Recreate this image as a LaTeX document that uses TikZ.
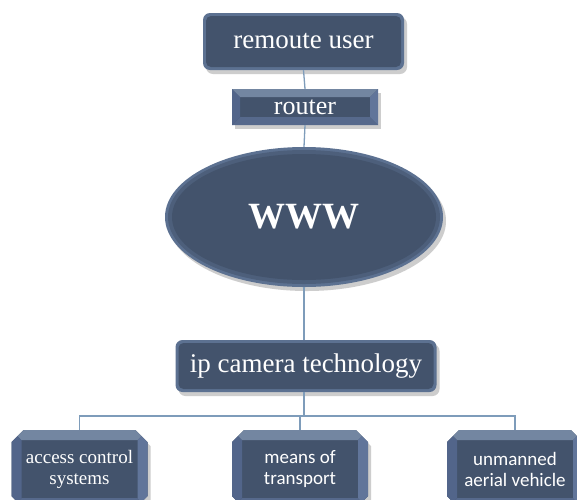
\documentclass[tikz,border=0pt]{standalone}
\usepackage{fontspec}
\setmainfont{Liberation Serif}
\newfontfamily\carlito{Carlito}
\usetikzlibrary{shapes.geometric,shapes.misc,shadows,calc}
\definecolor{base}{HTML}{43536C}
\definecolor{rim}{HTML}{5C7191}
\definecolor{facetT}{HTML}{7386A1}
\definecolor{facetL}{HTML}{52658A}
\definecolor{facetR}{HTML}{61759A}
\definecolor{facetB}{HTML}{56698C}
\definecolor{conn}{HTML}{7E9CBA}
\tikzset{
  connector/.style={draw=conn, line width=1.3pt},
  shad/.style={drop shadow={opacity=0.28, shadow xshift=3pt, shadow yshift=-4pt, fill=black!70}},
  roundbox/.style={rectangle, rounded corners=7pt, fill=rim, text=white, shad, inner sep=0pt,
    path picture={\fill[base, rounded corners=5pt]
      ([shift={(3pt,-3pt)}]path picture bounding box.north west) rectangle
      ([shift={(-3pt,3pt)}]path picture bounding box.south east);}},
  bevelbox/.style={fill=base, text=white, shad, inner sep=0pt,
    path picture={
      \fill[facetT] (path picture bounding box.north west) -- (path picture bounding box.north east)
        -- ([shift={(-#1,-#1)}]path picture bounding box.north east)
        -- ([shift={(#1,-#1)}]path picture bounding box.north west) -- cycle;
      \fill[facetB] (path picture bounding box.south west) -- (path picture bounding box.south east)
        -- ([shift={(-#1,#1)}]path picture bounding box.south east)
        -- ([shift={(#1,#1)}]path picture bounding box.south west) -- cycle;
      \fill[facetL] (path picture bounding box.north west) -- (path picture bounding box.south west)
        -- ([shift={(#1,#1)}]path picture bounding box.south west)
        -- ([shift={(#1,-#1)}]path picture bounding box.north west) -- cycle;
      \fill[facetR] (path picture bounding box.north east) -- (path picture bounding box.south east)
        -- ([shift={(-#1,#1)}]path picture bounding box.south east)
        -- ([shift={(-#1,-#1)}]path picture bounding box.north east) -- cycle;
    }},
  leafbox/.style={bevelbox=10pt, chamfered rectangle, chamfered rectangle xsep=6pt,
    chamfered rectangle ysep=6pt, minimum width=136pt, minimum height=78pt, align=center},
  wwwnode/.style={ellipse, fill=rim, text=white, shad, inner sep=0pt,
    minimum width=278pt, minimum height=140pt,
    path picture={
      \fill[base!60!rim] (path picture bounding box.center) ellipse (136pt and 67pt);
      \fill[base] (path picture bounding box.center) ellipse (132pt and 63pt);
    }}
}
\begin{document}
\begin{tikzpicture}[x=1pt,y=1pt]
\clip (0,0) rectangle (577,-499);
\fill[white] (0,0) rectangle (577,-499);
% nodes
\node[roundbox, minimum width=201pt, minimum height=57pt, font=\fontsize{27}{29}\selectfont] (ru) at (303.5,-41.5) {remoute user};
\node[bevelbox=8pt, minimum width=146pt, minimum height=36pt, font=\fontsize{26}{28}\selectfont] (router) at (305,-107) {router};
\node[wwwnode, font=\fontsize{37}{40}\selectfont\bfseries] (www) at (304,-217) {WWW};
\node[roundbox, minimum width=261pt, minimum height=52pt, font=\fontsize{27}{29}\selectfont] (ip) at (306,-366) {ip camera technology};
\node[leafbox, font=\fontsize{19}{21}\selectfont] (acs) at (79.5,-469) {access control\\systems};
\node[leafbox, font=\fontsize{19}{21}\selectfont\carlito] (mot) at (300,-469) {means of\\transport};
\node[leafbox, font=\fontsize{19}{21}\selectfont\carlito] (uav) at (515,-469) {unmanned\\aerial vehicle};
\coordinate (bar) at (304,-416);
% connectors
\draw[connector] (ru.south) -- (router.north);
\draw[connector] (router.south) -- (www.north);
\draw[connector] (www.south) -- (www.south |- ip.north);
\draw[connector] (ip.south -| bar) -- (bar);
\draw[connector] (acs.north) -- (acs.north |- bar) -- (uav.north |- bar) -- (uav.north);
\draw[connector] (mot.north) -- (mot.north |- bar);
\end{tikzpicture}
\end{document}
